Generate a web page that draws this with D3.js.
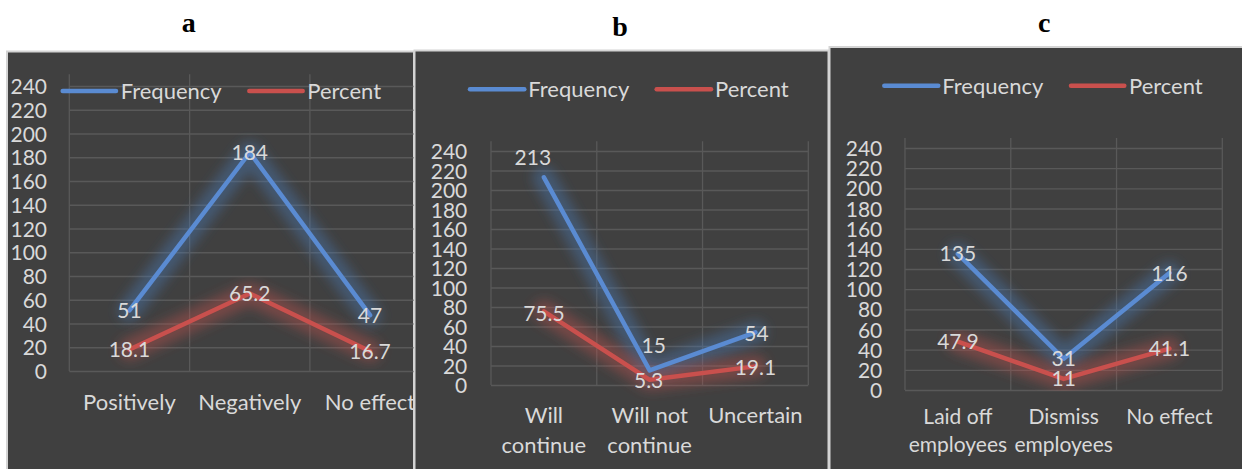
<!DOCTYPE html>
<html>
<head>
<meta charset="utf-8">
<script src="https://cdn.jsdelivr.net/npm/d3@7"></script>
<style>
  html, body { margin: 0; padding: 0; background: #ffffff; }
  svg { display: block; }
</style>
</head>
<body>
<svg id="chart" width="1242" height="469"></svg>
<script>
// ---------------- data ----------------
const panelTitles = ["a", "b", "c"];
const seriesNames = ["Frequency", "Percent"];
const yTickValues = [0, 20, 40, 60, 80, 100, 120, 140, 160, 180, 200, 220, 240];

const categoriesA = [["Positively"], ["Negatively"], ["No effect"]];
const frequencyA = [51, 184, 47];
const percentA = [18.1, 65.2, 16.7];

const categoriesB = [["Will", "continue"], ["Will not", "continue"], ["Uncertain"]];
const frequencyB = [213, 15, 54];
const percentB = [75.5, 5.3, 19.1];

const categoriesC = [["Laid off", "employees"], ["Dismiss", "employees"], ["No effect"]];
const frequencyC = [135, 31, 116];
const percentC = [47.9, 11, 41.1];

// ---------------- layout / style ----------------
const FONT = "Lato, 'Open Sans', 'Noto Sans', sans-serif";
const TEXT = "#d9d9d9";
const BG = "#404040";
const GRID = "#595959";
const BLUE = "#5a8bd2";
const RED = "#c9504d";
const BLUE_GLOW = "#4a79b8";
const RED_GLOW = "#c0504d";

const panels = [
  { title: panelTitles[0], cats: categoriesA, freq: frequencyA, pct: percentA,
    rect: { x: 7, y: 51.5, w: 407, h: 420 },
    plot: { x0: 69.3, x1: 430.2, yZero: 371, yTop: 86 },
    tickRight: 47,
    legend: { y: 91, b0: 62.7, b1: 116, bt: 120.7, r0: 249.3, r1: 302.7, rt: 307.3 },
    xLabelBase: 410, lineGap: 27, catFont: 22,
    titleX: 188.7, titleBase: 31.7,
    freqShift: [[0, 0], [0, 0], [0, 0]], pctShift: [[0, 0], [0, 0], [0, 0]] },
  { title: panelTitles[1], cats: categoriesB, freq: frequencyB, pct: percentB,
    rect: { x: 414.5, y: 50.5, w: 414, h: 420 },
    plot: { x0: 491, x1: 808.3, yZero: 385, yTop: 151 },
    tickRight: 467.3,
    legend: { y: 89.3, b0: 470, b1: 524.3, bt: 528.3, r0: 656.7, r1: 711, rt: 715 },
    xLabelBase: 423, lineGap: 29.5, catFont: 22,
    titleX: 620, titleBase: 35.7,
    freqShift: [[-11, -20], [4, -25], [1, 1]], pctShift: [[0, 2], [-1, 1], [0, 1]] },
  { title: panelTitles[2], cats: categoriesC, freq: frequencyC, pct: percentC,
    rect: { x: 829.5, y: 47, w: 414, h: 423 },
    plot: { x0: 905, x1: 1222.3, yZero: 390, yTop: 148 },
    tickRight: 882.3,
    legend: { y: 85.7, b0: 884.3, b1: 938.3, bt: 942.3, r0: 1071, r1: 1124.3, rt: 1129 },
    xLabelBase: 424, lineGap: 27.5, catFont: 21,
    titleX: 1044.3, titleBase: 31.7,
    freqShift: [[0, 0], [0, 0], [0, 0]], pctShift: [[0, 0], [0, 0], [0, 0]] }
];

const svg = d3.select("#chart");
const defs = svg.append("defs");
const glow = defs.append("filter").attr("id", "glow")
  .attr("x", "-30%").attr("y", "-30%").attr("width", "160%").attr("height", "160%");
glow.append("feGaussianBlur").attr("stdDeviation", 6);

panels.forEach((p, i) => {
  const clipId = "clip" + i;
  defs.append("clipPath").attr("id", clipId)
    .append("rect").attr("x", p.rect.x).attr("y", p.rect.y).attr("width", p.rect.w).attr("height", p.rect.h);

  const g = svg.append("g");
  // background
  g.append("rect")
    .attr("x", p.rect.x).attr("y", p.rect.y).attr("width", p.rect.w).attr("height", p.rect.h)
    .attr("fill", BG).attr("stroke", "#d4d4d4").attr("stroke-width", 2);

  // title
  svg.append("text")
    .attr("x", p.titleX).attr("y", p.titleBase)
    .attr("text-anchor", "middle")
    .attr("font-family", "'Liberation Serif', 'Times New Roman', serif")
    .attr("font-weight", "bold").attr("font-size", 28).attr("fill", "#000")
    .text(p.title);

  const inner = g.append("g").attr("clip-path", `url(#${clipId})`);

  const catKeys = p.cats.map(c => c.join(" "));
  const x = d3.scaleBand().domain(catKeys).range([p.plot.x0, p.plot.x1]).padding(0);
  const y = d3.scaleLinear().domain([0, 240]).range([p.plot.yZero, p.plot.yTop]);
  const cx = k => x(k) + x.bandwidth() / 2;

  // horizontal gridlines
  inner.append("g")
    .attr("transform", `translate(${p.plot.x0},0)`)
    .call(d3.axisLeft(y).tickValues(yTickValues).tickSize(-(p.plot.x1 - p.plot.x0)).tickFormat(""))
    .call(s => s.select(".domain").remove())
    .call(s => s.selectAll("line").attr("stroke", GRID).attr("stroke-width", 1.3));

  // vertical gridlines at category boundaries
  const bounds = catKeys.map(k => x(k)).concat([p.plot.x1]);
  inner.append("g").selectAll("line").data(bounds).join("line")
    .attr("x1", d => d).attr("x2", d => d)
    .attr("y1", y(250)).attr("y2", y(0))
    .attr("stroke", GRID).attr("stroke-width", 1.3);

  // y tick labels
  inner.append("g")
    .attr("transform", `translate(${p.tickRight},0)`)
    .call(d3.axisLeft(y).tickValues(yTickValues).tickSize(0).tickPadding(0))
    .call(s => s.select(".domain").remove())
    .call(s => s.selectAll("text").attr("fill", TEXT).attr("font-family", FONT).attr("font-size", 21)
      .attr("dy", "0.36em").attr("x", 0));

  // x category labels
  const xl = inner.append("g").selectAll("text").data(p.cats).join("text")
    .attr("x", (d, j) => cx(catKeys[j]))
    .attr("y", p.xLabelBase)
    .attr("text-anchor", "middle")
    .attr("fill", TEXT).attr("font-family", FONT).attr("font-size", p.catFont);
  xl.each(function (d) {
    const t = d3.select(this);
    const xx = +t.attr("x");
    d.forEach((line, li) => {
      t.append("tspan").attr("x", xx).attr("dy", li === 0 ? 0 : p.lineGap).text(line);
    });
  });

  const line = d3.line().x(d => cx(d.k)).y(d => y(d.v));
  const series = [
    { name: seriesNames[0], vals: p.freq, color: BLUE, glowColor: BLUE_GLOW, shift: p.freqShift },
    { name: seriesNames[1], vals: p.pct, color: RED, glowColor: RED_GLOW, shift: p.pctShift }
  ];

  // glows
  series.forEach(s => {
    const pts = s.vals.map((v, j) => ({ k: catKeys[j], v }));
    inner.append("path").datum(pts).attr("d", line)
      .attr("fill", "none").attr("stroke", s.glowColor).attr("stroke-width", 22)
      .attr("stroke-opacity", 0.42).attr("stroke-linejoin", "round").attr("stroke-linecap", "round")
      .attr("filter", "url(#glow)");
  });
  // lines
  series.forEach(s => {
    const pts = s.vals.map((v, j) => ({ k: catKeys[j], v }));
    inner.append("path").datum(pts).attr("d", line)
      .attr("fill", "none").attr("stroke", s.color).attr("stroke-width", 4.5)
      .attr("stroke-linejoin", "round").attr("stroke-linecap", "round");
  });
  // data labels
  series.forEach(s => {
    inner.append("g").selectAll("text").data(s.vals).join("text")
      .attr("x", (v, j) => cx(catKeys[j]) + s.shift[j][0])
      .attr("y", (v, j) => y(v) + s.shift[j][1])
      .attr("dy", "0.36em")
      .attr("text-anchor", "middle")
      .attr("fill", TEXT).attr("font-family", FONT).attr("font-size", 21)
      .text(v => v);
  });

  // legend
  const L = p.legend;
  const leg = inner.append("g");
  [[L.b0, L.b1, L.bt, BLUE, seriesNames[0]], [L.r0, L.r1, L.rt, RED, seriesNames[1]]].forEach(e => {
    leg.append("line").attr("x1", e[0]).attr("x2", e[1]).attr("y1", L.y).attr("y2", L.y)
      .attr("stroke", e[3]).attr("stroke-width", 4.5).attr("stroke-linecap", "round");
    leg.append("text").attr("x", e[2]).attr("y", L.y).attr("dy", "0.36em")
      .attr("fill", TEXT).attr("font-family", FONT).attr("font-size", 22).text(e[4]);
  });
});
</script>
</body>
</html>
